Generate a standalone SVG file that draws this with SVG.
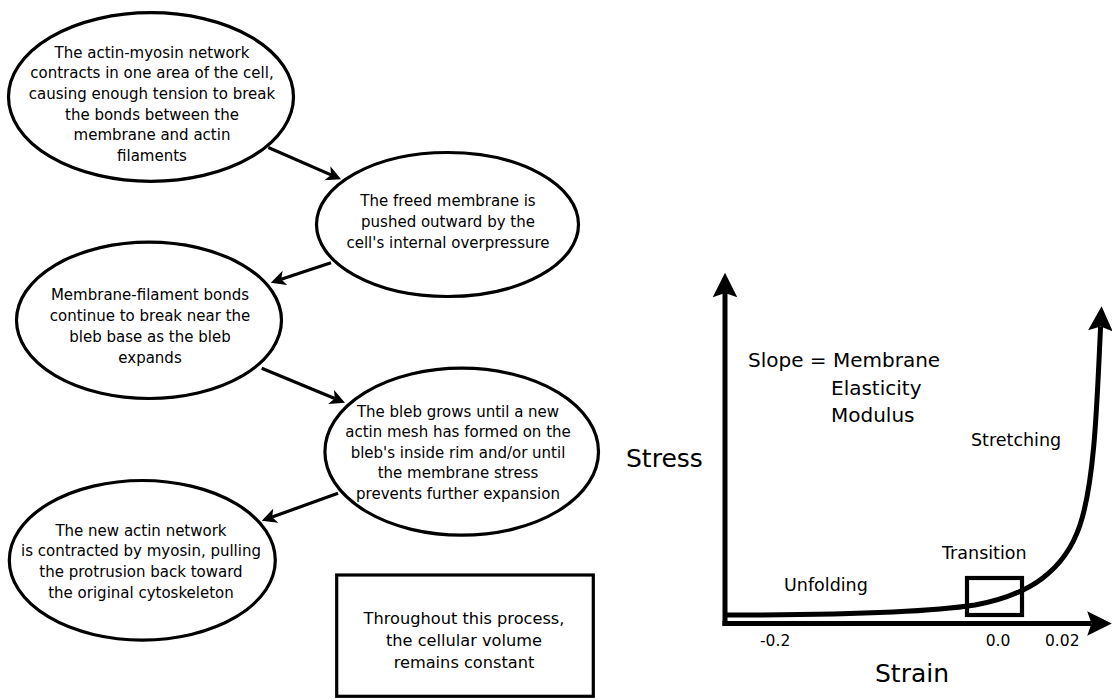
<svg xmlns="http://www.w3.org/2000/svg" width="1112" height="700" viewBox="0 0 1112 700">
<style>
.node ellipse, .node rect { fill: #ffffff; stroke: #000000; stroke-width: 3.2; }
.t { font-family: "DejaVu Sans", "Liberation Sans", sans-serif; font-size: 15px; fill: #000; text-anchor: middle; }
.tb { font-family: "DejaVu Sans", "Liberation Sans", sans-serif; font-size: 16.2px; fill: #000; text-anchor: middle; }
.conn { fill: none; stroke: #000; stroke-width: 3.2; marker-end: url(#ah); }
.axis { fill: none; stroke: #000; stroke-width: 5; }
.c { font-family: "DejaVu Sans", "Liberation Sans", sans-serif; fill: #000; }
</style>
<defs>
<marker id="ah" markerUnits="userSpaceOnUse" viewBox="0 -8 16 16" refX="4" refY="0" markerWidth="16" markerHeight="16" orient="auto">
<path d="M0,-7.6 L15,0 L0,7.6 L4,0 Z" fill="#000"/>
</marker>
<marker id="ahb" markerUnits="userSpaceOnUse" viewBox="0 -13 26 26" refX="4.3" refY="0" markerWidth="26" markerHeight="26" orient="auto">
<path d="M0,-12.3 L24.6,0 L0,12.3 L4.3,0 Z" fill="#000"/>
</marker>
</defs>
<rect width="1112" height="700" fill="#ffffff"/>

<g id="connectors">
<path class="conn" d="M268.3,147.5 L331,174.9"/>
<path class="conn" d="M331,262.7 L281.2,279.2"/>
<path class="conn" d="M261.7,368.3 L334.8,398.5"/>
<path class="conn" d="M338,493.3 L272.1,517"/>
</g>

<g id="node1" class="node">
<ellipse cx="151" cy="97" rx="142.5" ry="84.3"/>
<text class="t" x="152" y="57.7">The actin-myosin network</text>
<text class="t" x="152" y="78.3">contracts in one area of the cell,</text>
<text class="t" x="152" y="99">causing enough tension to break</text>
<text class="t" x="152" y="119.7">the bonds between the</text>
<text class="t" x="152" y="140.3">membrane and actin</text>
<text class="t" x="152" y="161">filaments</text>
</g>

<g id="node2" class="node">
<ellipse cx="447.5" cy="224.5" rx="131" ry="72"/>
<text class="t" x="448" y="206.2">The freed membrane is</text>
<text class="t" x="448" y="226.8">pushed outward by the</text>
<text class="t" x="448" y="247.6">cell's internal overpressure</text>
</g>

<g id="node3" class="node">
<ellipse cx="149" cy="320.3" rx="132.5" ry="78.2"/>
<text class="t" x="150" y="300">Membrane-filament bonds</text>
<text class="t" x="150" y="321">continue to break near the</text>
<text class="t" x="150" y="341.7">bleb base as the bleb</text>
<text class="t" x="150" y="362.5">expands</text>
</g>

<g id="node4" class="node">
<ellipse cx="461.7" cy="451.7" rx="136.8" ry="83.5"/>
<text class="t" x="458" y="416.7">The bleb grows until a new</text>
<text class="t" x="458" y="437">actin mesh has formed on the</text>
<text class="t" x="458" y="457.7">bleb's inside rim and/or until</text>
<text class="t" x="458" y="478.3">the membrane stress</text>
<text class="t" x="458" y="499">prevents further expansion</text>
</g>

<g id="node5" class="node">
<ellipse cx="142.3" cy="560.3" rx="133" ry="79.8"/>
<text class="t" x="141" y="535.7">The new actin network</text>
<text class="t" x="141" y="556.3">is contracted by myosin, pulling</text>
<text class="t" x="141" y="577">the protrusion back toward</text>
<text class="t" x="141" y="597.7">the original cytoskeleton</text>
</g>

<g id="note" class="node">
<rect x="336.7" y="575" width="256.6" height="121.3"/>
<text class="tb" x="464" y="624.3">Throughout this process,</text>
<text class="tb" x="464" y="646">the cellular volume</text>
<text class="tb" x="464" y="667.7">remains constant</text>
</g>

<g id="chart">
<path class="axis" d="M725,626 L725,293" marker-end="url(#ahb)"/>
<path class="axis" d="M722.5,623.5 L1091.5,623.5" marker-end="url(#ahb)"/>
<path class="axis" d="M727,615 C850,615 930,612 975,605 C1030,595 1065,570 1080,525 C1095,480 1097,400 1100.6,326.5" marker-end="url(#ahb)"/>
<rect x="967" y="578" width="55" height="37" fill="none" stroke="#000" stroke-width="4.2"/>
<text class="c" x="626" y="467" font-size="25">Stress</text>
<text class="c" x="875" y="682" font-size="25">Strain</text>
<text class="c" x="748" y="367" font-size="20">Slope = Membrane</text>
<text class="c" x="831" y="395" font-size="20">Elasticity</text>
<text class="c" x="831" y="422" font-size="20">Modulus</text>
<text class="c" x="971" y="445.5" font-size="17.5">Stretching</text>
<text class="c" x="942" y="559" font-size="17.5">Transition</text>
<text class="c" x="784" y="591" font-size="17.5">Unfolding</text>
<text class="c" x="760" y="645.5" font-size="15.5">-0.2</text>
<text class="c" x="985.7" y="645.5" font-size="15.5">0.0</text>
<text class="c" x="1045" y="645.5" font-size="15.5">0.02</text>
</g>
</svg>
